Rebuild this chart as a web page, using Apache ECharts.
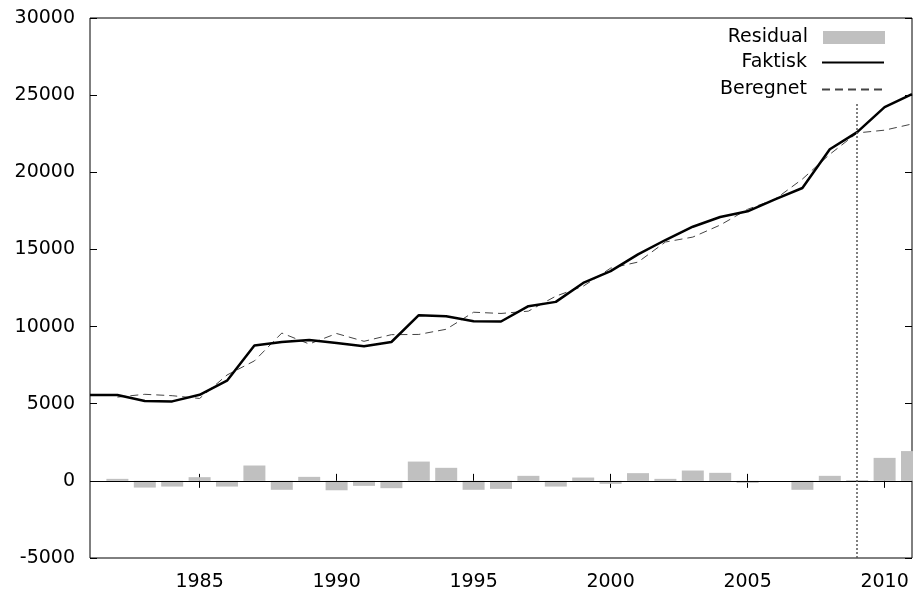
<!DOCTYPE html>
<html>
<head>
<meta charset="utf-8">
<script src="https://cdn.jsdelivr.net/npm/echarts@6/dist/echarts.min.js"></script>
<style>
html,body{margin:0;padding:0;background:#fff;}
#chart{width:917px;height:592px;}
</style>
</head>
<body>
<div id="chart"></div>
<script>
const years = ['1981','1982','1983','1984','1985','1986','1987','1988','1989','1990','1991','1992','1993','1994','1995','1996','1997','1998','1999','2000','2001','2002','2003','2004','2005','2006','2007','2008','2009','2010','2011'];
const faktisk = [5560,5560,5175,5150,5580,6490,8770,9000,9130,8940,8720,9000,10740,10670,10350,10330,11320,11600,12830,13590,14680,15610,16470,17100,17470,18250,18980,21490,22600,24220,25060];
const beregnet = [null,5430,5610,5520,5340,6860,7775,9580,8870,9550,9045,9475,9490,9825,10930,10850,11000,11970,12615,13785,14180,15480,15800,16580,17600,18250,19560,21165,22550,22730,23130];
const residual = [null,130,-435,-370,240,-370,995,-580,260,-610,-325,-475,1250,845,-580,-520,325,-370,215,-195,500,130,670,520,-130,0,-580,325,50,1490,1930];
const yTicks = {min:-5000, max:30000, step:5000};
const forecastStart = '2009';
const forecastLineTop = 24500;

const FONT = 'DejaVu Sans';
const FS = 19;
const chart = echarts.init(document.getElementById('chart'), null, {renderer:'canvas'});
const showYear = (i, v) => Number(v) % 5 === 0;
const legendBase = {
  orient:'vertical', align:'right', right:32, padding:0,
  itemWidth:62, itemHeight:13, selectedMode:false,
  itemStyle:{opacity:0},
  textStyle:{fontFamily:FONT, fontSize:FS, color:'#000', padding:[0,10,0,0]}
};
chart.setOption({
  animation:false,
  backgroundColor:'#fff',
  grid:{left:90, right:5, top:18, bottom:34, show:true, borderColor:'#000', borderWidth:1, backgroundColor:'transparent'},
  legend:[
    Object.assign({}, legendBase, {data:[{name:'Residual', icon:'rect'}], top:28, itemStyle:{}}),
    Object.assign({}, legendBase, {data:['Faktisk'], top:53}),
    Object.assign({}, legendBase, {data:['Beregnet'], top:80})
  ],
  graphic:[
    {type:'rect', left:913, top:0, shape:{width:10, height:592}, style:{fill:'#fff'}, z:5, silent:true}
  ],
  xAxis:[
    {type:'category', data:years, boundaryGap:false, position:'bottom',
     axisLine:{show:false},
     axisTick:{show:true, inside:true, length:7, interval:showYear, lineStyle:{color:'#000'}},
     axisLabel:{interval:showYear, margin:15, fontFamily:FONT, fontSize:FS, color:'#000'},
     splitLine:{show:false}},
    {type:'category', data:years, boundaryGap:false, position:'top',
     axisLine:{show:false},
     axisTick:{show:true, inside:true, length:7, interval:showYear, lineStyle:{color:'#000'}},
     axisLabel:{show:false}, splitLine:{show:false}}
  ],
  yAxis:[
    {type:'value', min:yTicks.min, max:yTicks.max, interval:yTicks.step, position:'left',
     axisLine:{show:false},
     axisTick:{show:true, inside:true, length:7, lineStyle:{color:'#000'}},
     axisLabel:{margin:15, fontFamily:FONT, fontSize:FS, color:'#000', formatter:(v)=>String(v)},
     splitLine:{show:false}},
    {type:'value', min:yTicks.min, max:yTicks.max, interval:yTicks.step, position:'right',
     axisLine:{show:false},
     axisTick:{show:true, inside:true, length:7, lineStyle:{color:'#000'}},
     axisLabel:{show:false}, splitLine:{show:false}}
  ],
  series:[
    {name:'Residual', type:'bar', data:residual, barWidth:22, clip:true,
     itemStyle:{color:'#c0c0c0'},
     markLine:{silent:true, symbol:'none', label:{show:false},
       lineStyle:{color:'#000', width:1, type:'solid'},
       data:[{yAxis:0}]}},
    {name:'Beregnet', type:'line', data:beregnet, symbol:'none', showSymbol:false,
     lineStyle:{color:'#444', width:1, type:[8,5]}, itemStyle:{color:'#444'},
     markLine:{silent:true, symbol:'none', label:{show:false},
       lineStyle:{color:'#555', width:1.5, type:[2,2]},
       data:[[{coord:[forecastStart, yTicks.min]},{coord:[forecastStart, forecastLineTop]}]]}},
    {name:'Faktisk', type:'line', data:faktisk, symbol:'none', showSymbol:false,
     lineStyle:{color:'#000', width:2.5}, itemStyle:{color:'#000'}}
  ]
});
</script>
</body>
</html>
